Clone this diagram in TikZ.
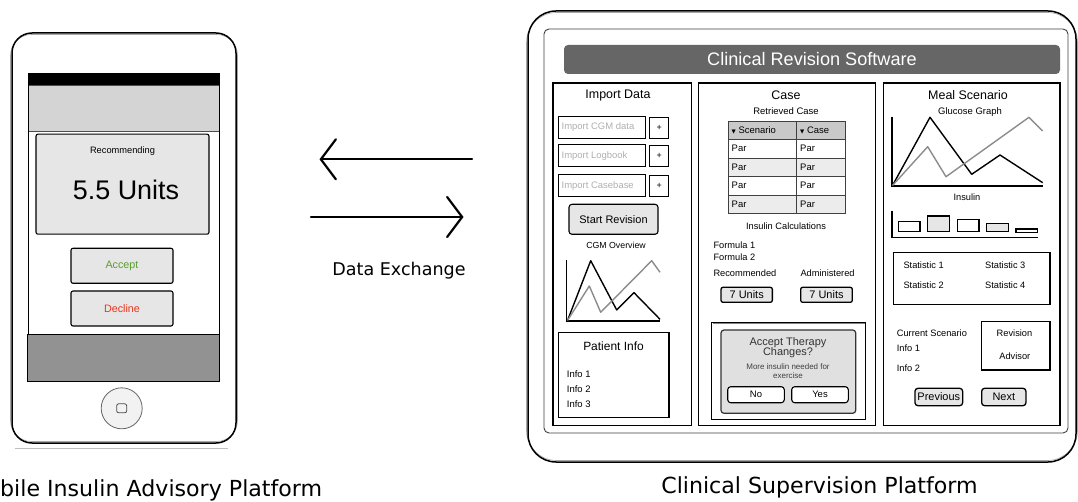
\documentclass[tikz,border=0pt]{standalone}
\usepackage{fontspec}
\newfontfamily\wf{Liberation Sans}
\newfontfamily\dv{DejaVu Sans}
\usetikzlibrary{arrows.meta}
\newcommand\myfs[1]{\fontsize{#1}{#1}\selectfont}
\definecolor{btnfill}{HTML}{E6E6E6}
\definecolor{phonehead}{HTML}{D4D4D4}
\definecolor{darkbar}{HTML}{929292}
\definecolor{titlebar}{HTML}{666666}
\definecolor{tabhead}{HTML}{C9C9C9}
\definecolor{altrow}{HTML}{ECECEC}
\definecolor{dlgfill}{HTML}{E0E0E0}
\definecolor{placeholder}{HTML}{B0B0B0}
\definecolor{acceptgreen}{HTML}{5A9E2F}
\definecolor{declinered}{HTML}{E8341C}
\definecolor{graphgray}{HTML}{8C8C8C}
\tikzset{
  txt/.style={inner sep=0pt, font=\wf\myfs{9.3}},
  bigtxt/.style={inner sep=0pt, font=\dv\myfs{22.2}},
  btn/.style={draw, fill=btnfill, rounded corners=2bp, inner sep=0pt, line width=1.1bp, font=\wf\myfs{11}},
  wbtn/.style={draw, fill=white, rounded corners=3bp, inner sep=0pt, line width=1.1bp, font=\wf\myfs{9.5}},
  box/.style={draw, inner sep=0pt, line width=1.1bp},
  inbox/.style={draw, inner sep=0pt, line width=1bp, minimum width=86.6bp, minimum height=22bp},
  plusbox/.style={draw, inner sep=0pt, line width=1.4bp, minimum width=19bp, minimum height=21bp, font=\wf\myfs{9}},
  ph/.style={inner sep=0pt, anchor=west, text=placeholder, font=\wf\myfs{9.5}},
  xarrow/.style={line width=2.2bp, line cap=round, -{Straight Barb[length=15bp,width=40bp,line cap=round]}},
  blk/.style={line width=1.4bp, line join=round},
  gry/.style={line width=1.4bp, draw=graphgray, line join=round},
}
\begin{document}
\begin{tikzpicture}[x=1bp,y=-1bp]
\useasboundingbox (0,0) rectangle (1078,502);
\fill[white] (0,0) rectangle (1078,502);

% ================= PHONE =================
\draw[gray!70, line width=0.6bp, rounded corners=21bp] (10.5,34.5) rectangle (237.5,441.5);
\draw[line width=1.5bp, rounded corners=20bp] (12,33) rectangle (236,443);
\draw[gray!50, line width=0.8bp] (15,448) -- (228,448);
\fill[black] (28,73) rectangle (220,85);
\node[draw=black!70, fill=phonehead, inner sep=0pt, line width=0.6bp, minimum width=191bp, minimum height=46bp] (phead) at (123.5,108) {};
\draw[line width=1bp] (28,85) -- (28,381);
\draw[line width=1bp] (219,85) -- (219,381);
\node[draw, fill=darkbar, inner sep=0pt, line width=1bp, minimum width=191bp, minimum height=46.5bp] (pbar) at (123.5,358.2) {};
\node[draw, fill=btnfill, rounded corners=2bp, inner sep=0pt, line width=1.1bp, minimum width=173bp, minimum height=100bp] (rec) at (122.5,184.2) {};
\node[txt] (recl) at (122.5,151) {Recommending};
\node[txt, font=\wf\myfs{27}] (units) at (126,190) {5.5 Units};
\node[btn, minimum width=102bp, minimum height=35bp, text=acceptgreen, font=\wf\myfs{10.8}] (accept) at (122,265.8) {Accept};
\node[btn, minimum width=102bp, minimum height=35bp, text=declinered, font=\wf\myfs{10.8}] (decline) at (122,308.5) {Decline};
\node[circle, draw=black!60, fill=white!95!black, line width=0.8bp, minimum size=41bp, inner sep=0pt] (home) at (121.7,408.3) {};
\node[draw=black!70, rounded corners=2bp, line width=0.8bp, minimum width=10bp, minimum height=9bp, inner sep=0pt] (homesq) at (home.center) {};
\node[bigtxt, anchor=west] (mlabel) at (0,490) {bile Insulin Advisory Platform};

% ================= ARROWS =================
\coordinate (a1s) at (472,159.3);
\coordinate (a1e) at (319.5,159.3);
\coordinate (a2s) at (311,217);
\coordinate (a2e) at (463.5,217);
\draw[xarrow] (a1s) -- (a1e);
\draw[xarrow] (a2s) -- (a2e);
\node[inner sep=0pt, font=\dv\myfs{17.6}] (dex) at (399,271) {Data Exchange};

% ================= TABLET =================
\draw[gray!70, line width=0.6bp, rounded corners=30bp] (526.5,12.5) rectangle (1077.5,460.5);
\draw[line width=1.5bp, rounded corners=28bp] (528,11) rectangle (1076,462);
\draw[line width=0.9bp, draw=black!75, rounded corners=5bp] (544,29) rectangle (1068,433);
\node[fill=titlebar, rounded corners=4bp, inner sep=0pt, minimum width=496bp, minimum height=29bp, text=white, font=\wf\myfs{18.2}] (title) at (812,59.5) {Clinical Revision Software};
\draw[line width=1.2bp] (553,83) rectangle (691.5,425.5);
\draw[line width=1.2bp] (698.5,83) rectangle (875.5,425.5);
\draw[line width=1.2bp] (883.5,83) rectangle (1060,425.5);

% ---- column 1 ----
\node[txt, font=\wf\myfs{12.5}] (imp) at (618,96) {Import Data};
\node[inbox] (in1) at (602,127.2) {};
\node[inbox] (in2) at (602,156) {};
\node[inbox] (in3) at (602,185.8) {};
\node[ph] (in1t) at (561.5,127.2) {Import CGM data};
\node[ph] (in2t) at (561.5,156) {Import Logbook};
\node[ph] (in3t) at (561.5,185.8) {Import Casebase};
\node[plusbox] (p1) at (659.2,127.8) {+};
\node[plusbox] (p2) at (659.2,156.3) {+};
\node[plusbox] (p3) at (659.2,185.8) {+};
\node[btn, minimum width=89bp, minimum height=30bp, rounded corners=3bp] (start) at (613.5,219.3) {Start Revision};
\node[txt, font=\wf\myfs{8.8}] (cgmo) at (616,245.5) {CGM Overview};
\draw[line width=1.3bp] (566.7,260) -- (566.7,321) -- (660,321);
\draw[blk] (567.5,320.5) -- (590.7,260.7) -- (616.7,310) -- (634,292.7) -- (660,319.3);
\draw[gry] (567.5,320.5) -- (589.3,286) -- (600.7,312.3) -- (651.7,260.7) -- (660,272.3);
\draw[box] (558.3,332.7) rectangle (669,417.3);
\node[txt, font=\wf\myfs{12}] (pinfo) at (613.5,346.7) {Patient Info};
\node[txt, anchor=west, font=\wf\myfs{9.5}] (pi1) at (566.7,374) {Info 1};
\node[txt, anchor=west, font=\wf\myfs{9.5}] (pi2) at (566.7,389) {Info 2};
\node[txt, anchor=west, font=\wf\myfs{9.5}] (pi3) at (566.7,404.3) {Info 3};

% ---- column 2 ----
\node[txt, font=\wf\myfs{12.5}] (case) at (786,95) {Case};
\node[txt, font=\wf\myfs{9.5}] (retr) at (786,110.7) {Retrieved Case};
\fill[tabhead] (728,121.7) rectangle (845.7,139.3);
\fill[altrow] (728,158) rectangle (845.7,176.5);
\fill[altrow] (728,195) rectangle (845.7,213.3);
\draw[black!75, line width=0.9bp] (728,121.7) rectangle (845.7,213.3);
\foreach \yy in {139.3,158,176.5,195} \draw[black!75, line width=0.9bp] (728,\yy) -- (845.7,\yy);
\draw[black!75, line width=0.9bp] (796.7,121.7) -- (796.7,213.3);
\node[txt, anchor=west, font=\wf\myfs{9.5}] (h1) at (731.5,130.5) {{\dv\myfs{5.5}▼} Scenario};
\node[txt, anchor=west, font=\wf\myfs{9.5}] (h2) at (800,130.5) {{\dv\myfs{5.5}▼} Case};
\foreach \yy [count=\i] in {148.6,167.2,185.7,204.2} {
  \node[txt, anchor=west, font=\wf\myfs{9.5}] (pa\i) at (731.5,\yy) {Par};
  \node[txt, anchor=west, font=\wf\myfs{9.5}] (pb\i) at (800,\yy) {Par};
}
\node[txt, font=\wf\myfs{9.3}] (icalc) at (786,226) {Insulin Calculations};
\node[txt, anchor=west] (f1) at (713.3,245) {Formula 1};
\node[txt, anchor=west] (f2) at (713.3,257.3) {Formula 2};
\node[txt, anchor=west] (recm) at (713.3,272.7) {Recommended};
\node[txt, anchor=west] (adm) at (800.3,272.7) {Administered};
\node[btn, minimum width=51.3bp, minimum height=15bp, line width=1.3bp] (u1) at (746.7,294.8) {7 Units};
\node[btn, minimum width=51.6bp, minimum height=15bp, line width=1.3bp] (u2) at (826.5,294.8) {7 Units};
\draw[line width=1bp] (711.7,322.7) rectangle (865.7,419.3);
\draw[gray, line width=1.2bp] (712.5,323.8) -- (864.9,323.8);
\node[draw=black!80, fill=dlgfill, rounded corners=3bp, inner sep=0pt, line width=1.2bp, minimum width=134.7bp, minimum height=83.3bp] (dlg) at (788.35,371.65) {};
\node[txt, font=\wf\myfs{11}, text=black!80] (dq1) at (788,342.3) {Accept Therapy};
\node[txt, font=\wf\myfs{11}, text=black!80] (dq2) at (788,352.9) {Changes?};
\node[txt, font=\wf\myfs{8}, text=black!75] (dm1) at (788,366.7) {More insulin needed for};
\node[txt, font=\wf\myfs{8}, text=black!75] (dm2) at (788,375.7) {exercise};
\node[wbtn, minimum width=56.6bp, minimum height=16bp] (no) at (756,394.7) {No};
\node[wbtn, minimum width=56.6bp, minimum height=16bp] (yes) at (820,394.7) {Yes};

% ---- column 3 ----
\node[txt, font=\wf\myfs{12.5}] (meal) at (968,95) {Meal Scenario};
\node[txt, font=\wf\myfs{9.5}] (gg) at (970,111.7) {Glucose Graph};
\draw[line width=1.3bp] (892,116.7) -- (892,186) -- (1042.7,186);
\draw[blk] (892.5,185.5) -- (930,117.3) -- (971.7,174.3) -- (1000,155) -- (1042.7,182.7);
\draw[gry] (892.5,185.5) -- (927.7,146.7) -- (946,176.7) -- (1029,117.3) -- (1042.7,131);
\node[txt, font=\wf\myfs{9.3}] (ins) at (967,197.5) {Insulin};
\draw[line width=1.3bp] (892,210.7) -- (892,237.3) -- (1038.3,237.3);
\draw[line width=1.1bp, fill=white] (898.3,221.7) rectangle (920,231.7);
\draw[line width=1.1bp, fill=btnfill] (927.7,216) rectangle (949.3,231.7);
\draw[line width=1.1bp, fill=white] (957.3,219.3) rectangle (979,231.7);
\draw[line width=1.1bp, fill=btnfill] (986.7,223.3) rectangle (1008.3,231.7);
\draw[line width=1.1bp, fill=white] (1016,229) rectangle (1037.3,232.7);
\draw[box] (893.3,252.7) rectangle (1050,304.3);
\node[txt, anchor=west] (s1) at (903.3,265) {Statistic 1};
\node[txt, anchor=west] (s2) at (903.3,285) {Statistic 2};
\node[txt, anchor=west] (s3) at (985,265) {Statistic 3};
\node[txt, anchor=west] (s4) at (985,285) {Statistic 4};
\node[txt, anchor=west] (cs) at (896.7,332.7) {Current Scenario};
\node[txt, anchor=west] (ci1) at (896.7,348) {Info 1};
\node[txt, anchor=west] (ci2) at (896.7,368) {Info 2};
\draw[box] (981.7,321.7) rectangle (1050,370);
\node[txt] (rev) at (1014.5,332.7) {Revision};
\node[txt] (advi) at (1014.8,356) {Advisor};
\node[btn, minimum width=47.7bp, minimum height=17.4bp, rounded corners=3bp, line width=1.3bp] (prev) at (938.8,397) {Previous};
\node[btn, minimum width=44.3bp, minimum height=17.4bp, rounded corners=3bp, line width=1.3bp] (next) at (1003.8,397) {Next};

\node[bigtxt] (clabel) at (819.5,487) {Clinical Supervision Platform};
\end{tikzpicture}
\end{document}
